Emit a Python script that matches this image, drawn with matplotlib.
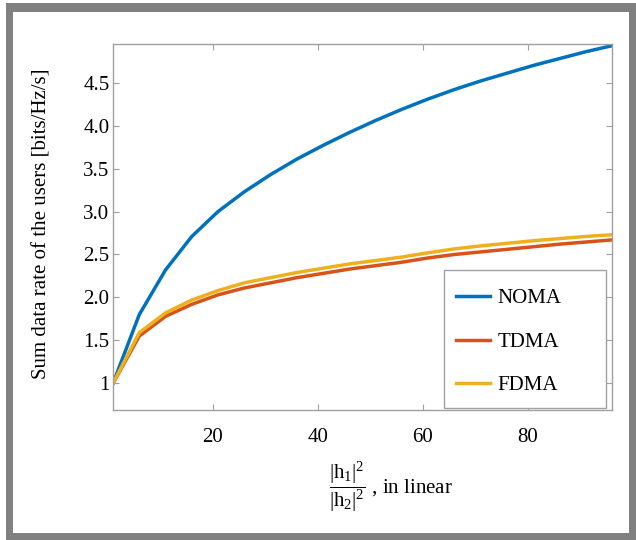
import matplotlib
matplotlib.use("Agg")
import matplotlib.pyplot as plt
from matplotlib.patches import Rectangle
from matplotlib.ticker import FixedLocator, FixedFormatter

plt.rcParams['font.family'] = ['Liberation Serif', 'DejaVu Serif']
plt.rcParams['mathtext.fontset'] = 'custom'
plt.rcParams['mathtext.rm'] = 'Liberation Serif'
plt.rcParams['mathtext.it'] = 'Liberation Serif:italic'

# data
x_ratio = [1, 6, 11, 16, 21, 26, 31, 36, 41, 46, 51, 56, 61, 66, 71, 76, 81, 86, 91, 96]
noma = [1.00, 1.80, 2.32, 2.71, 3.00, 3.23, 3.43, 3.61, 3.77, 3.92, 4.06, 4.19, 4.31,
        4.42, 4.52, 4.61, 4.70, 4.78, 4.86, 4.93]
tdma = [1.00, 1.55, 1.78, 1.92, 2.03, 2.11, 2.17, 2.23, 2.28, 2.33, 2.37, 2.41, 2.46,
        2.50, 2.53, 2.56, 2.59, 2.62, 2.645, 2.67]
fdma = [1.00, 1.59, 1.82, 1.97, 2.08, 2.17, 2.23, 2.29, 2.34, 2.39, 2.43, 2.47, 2.52,
        2.565, 2.60, 2.63, 2.66, 2.685, 2.71, 2.73]
series_names = ['NOMA', 'TDMA', 'FDMA']
series_colors = ['#0072BD', '#D95319', '#EDB120']
x_ticks = [20, 40, 60, 80]
y_ticks = [1, 1.5, 2.0, 2.5, 3.0, 3.5, 4.0, 4.5]
y_tick_labels = ['1', '1.5', '2.0', '2.5', '3.0', '3.5', '4.0', '4.5']

W, H = 636, 540
fig = plt.figure(figsize=(W / 100, H / 100), dpi=100)
fig.patch.set_facecolor('white')

# gray frame around the figure
frame_col = '#808080'
for (x0, y0, w, h) in [(6, 3, 630, 9), (6, 3, 7, 537), (629, 3, 7, 537), (6, 533, 630, 7)]:
    fig.patches.append(Rectangle((x0 / W, 1 - (y0 + h) / H), w / W, h / H,
                                 transform=fig.transFigure, facecolor=frame_col,
                                 edgecolor='none', zorder=0))

ax_l, ax_r, ax_t, ax_b = 113, 612, 44, 410
axw, axh = ax_r - ax_l, ax_b - ax_t
ax = fig.add_axes([ax_l / W, 1 - ax_b / H, axw / W, axh / H])

for vals, name, col in zip([noma, tdma, fdma], series_names, series_colors):
    ax.plot(x_ratio, vals, color=col, lw=2.5, label=name)

ax.set_xlim(1, 96)
ax.set_ylim(0.69, 4.95)
ax.xaxis.set_major_locator(FixedLocator(x_ticks))
ax.yaxis.set_major_locator(FixedLocator(y_ticks))
ax.yaxis.set_major_formatter(FixedFormatter(y_tick_labels))

spine_col = '#a0a0a0'
for s in ax.spines.values():
    s.set_color(spine_col)
    s.set_linewidth(1.0)
ax.tick_params(direction='in', length=4, width=0.8, color=spine_col,
               top=True, right=True, labelsize=15, labelcolor='black')
ax.tick_params(axis='y', pad=2.5)
ax.tick_params(axis='x', pad=13)

ax.set_ylabel('Sum data rate of the users [bits/Hz/s]', fontsize=15)
ax.yaxis.label.set_verticalalignment('center')
ax.yaxis.set_label_coords((42.5 - ax_l) / axw, (ax_b - 224) / axh)
ax.set_xlabel(r'$\dfrac{|\mathrm{h}_1|^2}{|\mathrm{h}_2|^2}$ , in linear', fontsize=15)
ax.xaxis.label.set_verticalalignment('center')
ax.xaxis.set_label_coords((391 - ax_l) / axw, (ax_b - 487) / axh)

# legend box (drawn as a rectangle, MATLAB-style wide box)
ax.add_patch(Rectangle(((444 - ax_l) / axw, (ax_b - 408) / axh),
                       (606 - 444) / axw, (408 - 270) / axh,
                       transform=ax.transAxes, facecolor='white', edgecolor=spine_col,
                       lw=1.0, zorder=5, clip_on=False))
leg = ax.legend(loc='center left', bbox_to_anchor=((456 - ax_l) / axw, (ax_b - 342) / axh),
                fontsize=15, frameon=False, labelspacing=1.14, handlelength=1.63,
                handletextpad=0.35, borderpad=0, borderaxespad=0)
leg.set_zorder(6)

fig.savefig('out.png', dpi=100, facecolor='white')
